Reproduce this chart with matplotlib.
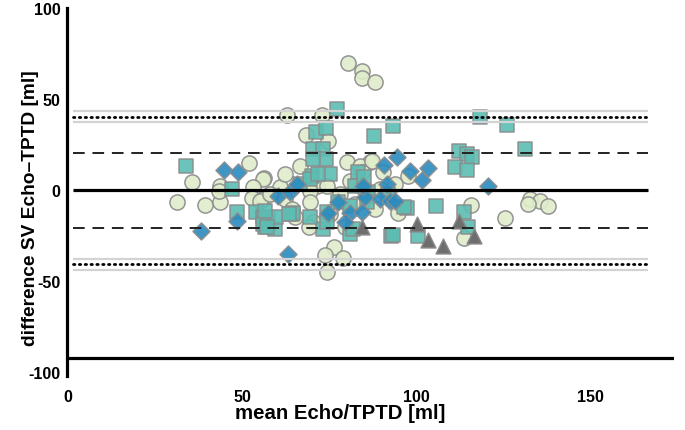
import matplotlib
matplotlib.use('Agg')
import matplotlib.pyplot as plt

plt.rcParams['axes.unicode_minus'] = False

# Bland-Altman data (mean, difference)
circ_x = [80.4, 84.4, 84.4, 88.1, 62.9, 72.9, 68.3, 74.6, 80.1, 86.7, 83.8, 66.6,
          56.3, 52.0, 35.7, 56.0, 43.7, 31.4, 39.4, 43.7, 43.4, 53.2, 52.9, 56.0,
          76.4, 73.8, 78.9, 74.4, 115.6, 125.4, 94.7, 113.6, 132.5, 135.4, 131.9, 137.7,
          97.6, 85.0, 87.2, 60.9, 62.3, 71.5, 74.4, 80.9, 84.4, 90.4, 69.5, 69.5,
          70.3, 69.2, 79.5, 55.2, 64.3, 58.0, 78.1, 82.4, 88.1, 75.2, 65.2, 89.5,
          93.8, 62.3]
circ_y = [70.1, 65.7, 61.8, 59.6, 41.5, 41.5, 30.5, 27.2, 15.7, 15.7, 13.5, 13.5,
          6.9, 15.1, 4.7, 6.3, 2.5, -6.3, -8.0, -6.3, -0.3, 1.9, -4.1, -4.7,
          -31.0, -35.4, -37.1, -44.8, -8.0, -15.1, -12.4, -26.1, -4.7, -5.8, -7.4, -8.5,
          8.0, 0.8, 16.2, 1.9, -4.7, 2.5, 2.5, 5.2, 10.2, 10.2, -0.3, -6.3,
          -17.3, -20.1, -20.1, -5.8, -10.2, -1.9, -1.9, -7.4, -10.2, -12.9, -14.6, 0.8,
          3.6, 9.1]

sq_x = [34.0, 47.1, 48.6, 54.0, 56.0, 56.6, 57.4, 59.5, 64.3, 56.0, 77.2, 71.2,
        74.1, 87.8, 93.3, 70.3, 73.2, 74.1, 70.3, 83.2, 75.2, 70.1, 66.6, 92.7,
        80.9, 73.2, 64.6, 69.5, 59.7, 56.6, 57.2, 74.4, 118.2, 125.9, 112.2, 114.5,
        115.9, 111.0, 114.5, 131.1, 97.3, 105.6, 113.6, 114.8, 100.4, 93.3, 69.5, 71.8,
        82.4, 86.1, 74.4, 81.8, 77.5, 80.9, 85.8, 91.8, 96.4, 85.0, 63.5]
sq_y = [13.5, 0.8, -11.8, -11.8, -14.6, -20.1, -15.7, -21.2, -12.9, -18.4, 44.8, 32.1,
        34.3, 29.9, 35.4, 22.8, 22.8, 17.3, 17.3, 10.2, 9.1, 8.0, 3.6, -25.0,
        -23.9, -21.2, -12.4, -14.6, -14.6, -11.3, -20.1, -11.8, 40.4, 36.0, 21.7, 20.1,
        18.4, 12.9, 11.3, 22.8, -9.6, -8.5, -11.8, -20.1, -25.0, -24.5, 6.3, 9.1,
        2.5, -0.8, -17.3, -21.2, -6.3, -8.5, -6.3, -1.9, -9.1, 7.4, -12.9]

dia_x = [44.8, 48.9, 38.3, 48.6, 63.2, 74.6, 77.5, 80.9, 79.5, 84.4, 85.2, 89.5,
         92.4, 60.3, 63.8, 65.8, 94.4, 90.7, 84.7, 98.1, 103.3, 101.6, 120.5, 93.8, 91.6]
dia_y = [11.3, 10.2, -22.3, -16.8, -34.9, -12.4, -6.3, -12.4, -17.3, -11.8, -3.6, -4.7,
         -5.8, -3.0, -0.8, 3.6, 18.4, 14.0, 2.5, 10.7, 12.4, 5.8, 2.5, -5.8, 3.6]

tri_x = [84.4, 100.1, 103.3, 107.6, 112.2, 116.5]
tri_y = [-20.1, -18.4, -27.2, -30.5, -16.8, -25.0]

bias = 0
loa_sd = 20.5
loa_pe = 40.5
ci_low = 37.6
ci_high = 43.5

fig = plt.figure(figsize=(6.85, 4.31), dpi=100)
ax = fig.add_axes([0.0985, 0.125, 0.8854, 0.853])

edge = '#8a8a8a'
ax.scatter(circ_x, circ_y, s=120, marker='o', facecolor='#dfedca', edgecolor=edge, linewidth=1.1, alpha=0.9, zorder=2)
ax.scatter(sq_x, sq_y, s=110, marker='s', facecolor='#5cbdb3', edgecolor=edge, linewidth=1.1, alpha=0.9, zorder=3)
ax.scatter(dia_x, dia_y, s=75, marker='D', facecolor='#2a8bbf', edgecolor=edge, linewidth=1.1, alpha=0.9, zorder=4)
ax.scatter(tri_x, tri_y, s=115, marker='^', facecolor='#6e6e6e', edgecolor=edge, linewidth=1.0, zorder=5)

x0, x1 = 1.6, 166.3
for v in [ci_low, ci_high, -ci_low, -ci_high]:
    ax.hlines(v, x0, x1, color='#d3d3d3', linewidth=1.6, zorder=6)
for v in [loa_pe, -loa_pe]:
    ax.hlines(v, x0, x1, color='black', linewidth=2.0, linestyles=(0, (0.5, 1.6)), capstyle='round', zorder=7)
for v in [loa_sd, -loa_sd]:
    ax.hlines(v, x0, x1, color='#222222', linewidth=1.4, linestyles=(0, (6, 4)), zorder=7)
ax.hlines(bias, x0, x1, color='black', linewidth=2.3, zorder=7)

# horizontal axis line crossing at -92
ax.axhline(-92, color='black', linewidth=2.3, zorder=7)

ax.set_xlim(0, 173.8)
ax.set_ylim(-102, 100)
ax.set_xticks([0, 50, 100, 150])
ax.set_yticks([100, 50, 0, -50, -100])
ax.tick_params(length=0, labelsize=11.5)
ax.tick_params(axis='x', pad=9)
ax.tick_params(axis='y', pad=5)
for lab in ax.get_xticklabels() + ax.get_yticklabels():
    lab.set_fontweight('bold')
    lab.set_family('Liberation Sans')

for s in ['top', 'right', 'bottom']:
    ax.spines[s].set_visible(False)
ax.spines['left'].set_linewidth(2.3)

ax.set_xlabel('mean Echo/TPTD [ml]', fontsize=14.7, fontweight='bold', family='Liberation Sans')
ax.set_ylabel('difference SV Echo\u2013TPTD [ml]', fontsize=13.8, fontweight='bold', family='Liberation Sans')
ax.xaxis.set_label_coords(0.449, -0.072)
ax.yaxis.set_label_coords(-0.047, 0.46)

fig.savefig('out.png', dpi=100)
